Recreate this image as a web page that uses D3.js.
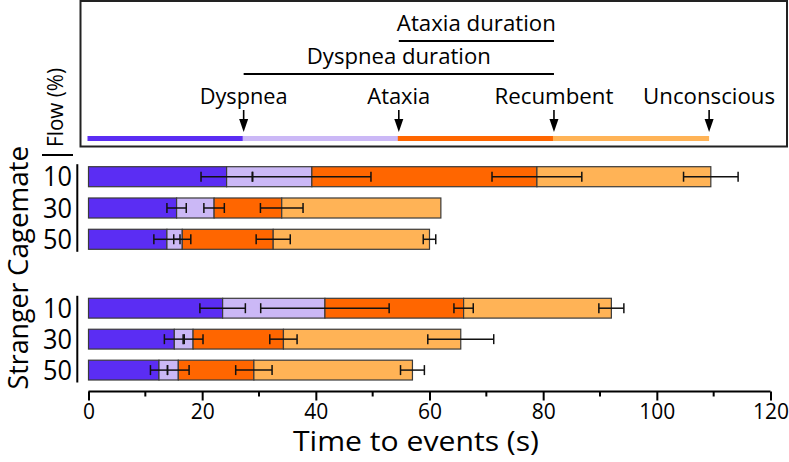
<!DOCTYPE html>
<html>
<head>
<meta charset="utf-8">
<script src="https://cdn.jsdelivr.net/npm/d3@7"></script>
<style>
  html, body { margin: 0; padding: 0; background: #fff; }
  svg { display: block; font-family: "Open Sans", sans-serif; }
</style>
</head>
<body>
<svg id="chart" width="789" height="462"></svg>
<script>
// ---------------- data ----------------
const groups = ["Cagemate", "Stranger"];
const flows = ["10", "30", "50"];
const events = ["Dyspnea", "Ataxia", "Recumbent", "Unconscious"];
const segmentColors = ["#5b2df3", "#cbb8f6", "#ff6600", "#ffb356"];

// cumulative time (s) at which each event occurs: [dyspnea, ataxia, recumbent, unconscious]
const cagemateTimes = [
  [24.3, 39.3, 78.9, 109.5],
  [15.5, 22.1, 34.0, 62.0],
  [13.8, 16.5, 32.5, 60.0]
];
const cagemateErrors = [
  [4.5, 10.4, 7.9, 4.8],
  [1.7, 1.8, 3.75, 0],
  [2.3, 1.5, 3.0, 1.1]
];
const strangerTimes = [
  [23.6, 41.6, 66.0, 92.0],
  [15.1, 18.4, 34.3, 65.5],
  [12.4, 15.8, 29.1, 57.0]
];
const strangerErrors = [
  [4.0, 11.3, 1.7, 2.2],
  [1.75, 1.75, 2.4, 5.8],
  [1.5, 1.9, 3.2, 2.1]
];

// schematic event times in the legend panel
const legendTimes = [0, 27.3, 54.6, 81.9, 109.2];
const xTicks = [0, 20, 40, 60, 80, 100, 120];
const xMinorTicks = [10, 30, 50, 70, 90, 110];
const xTitle = "Time to events (s)";
const flowLabel = "Flow (%)";

// ---------------- drawing ----------------
const svg = d3.select("#chart");
const x = d3.scaleLinear().domain([0, 120]).range([88.5, 770.5]);

// condense text to a target width (reference typeface is narrow)
function fit(sel, w) {
  sel.attr("textLength", w).attr("lengthAdjust", "spacingAndGlyphs");
  return sel;
}

const yGroup = {
  Cagemate: d3.scaleBand().domain(flows).range([166.7, 249.3]).paddingInner(0.36).paddingOuter(0),
  Stranger: d3.scaleBand().domain(flows).range([298.3, 380]).paddingInner(0.36).paddingOuter(0)
};
const groupData = {
  Cagemate: { times: cagemateTimes, errors: cagemateErrors },
  Stranger: { times: strangerTimes, errors: strangerErrors }
};

// legend box
svg.append("rect")
  .attr("x", 80.5).attr("y", 1).attr("width", 706.5).attr("height", 145.5)
  .attr("fill", "none").attr("stroke", "#222").attr("stroke-width", 2);

const legY = 138.5;
const legSegs = d3.range(4).map(i => ({ x0: legendTimes[i], x1: legendTimes[i + 1], c: segmentColors[i] }));
svg.append("g").selectAll("line").data(legSegs).join("line")
  .attr("x1", d => x(d.x0) - 1).attr("x2", d => x(d.x1))
  .attr("y1", legY).attr("y2", legY)
  .attr("stroke", d => d.c).attr("stroke-width", 5);

// arrows + labels
const eventWidths = [88, 63, 119, 132];
const arrowG = svg.append("g");
events.forEach((ev, i) => {
  const ax = x(legendTimes[i + 1]);
  arrowG.append("line").attr("x1", ax).attr("x2", ax).attr("y1", 110).attr("y2", 124)
    .attr("stroke", "#000").attr("stroke-width", 1.6);
  arrowG.append("path")
    .attr("d", `M${ax - 4.5},${119} L${ax + 4.5},${119} L${ax},${132} Z`)
    .attr("fill", "#000");
  fit(arrowG.append("text").attr("x", ax).attr("y", 104)
    .attr("text-anchor", "middle").attr("font-size", 21).text(ev), eventWidths[i]);
});

// duration lines
const durations = [
  { label: "Dyspnea duration", from: legendTimes[1], to: legendTimes[3], y: 74, ty: 64, w: 184 },
  { label: "Ataxia duration", from: legendTimes[2], to: legendTimes[3], y: 41, ty: 31, w: 159 }
];
durations.forEach(d => {
  svg.append("line").attr("x1", x(d.from)).attr("x2", x(d.to)).attr("y1", d.y).attr("y2", d.y)
    .attr("stroke", "#000").attr("stroke-width", 2);
  fit(svg.append("text").attr("x", (x(d.from) + x(d.to)) / 2).attr("y", d.ty)
    .attr("text-anchor", "middle").attr("font-size", 21).text(d.label), d.w);
});

// Flow (%) label
fit(svg.append("text").attr("transform", "translate(63,107.5) rotate(-90)")
  .attr("text-anchor", "middle").attr("font-size", 21).text(flowLabel), 79);
svg.append("line").attr("x1", 42).attr("x2", 73).attr("y1", 155).attr("y2", 155)
  .attr("stroke", "#000").attr("stroke-width", 2);

// bars
const barsG = svg.append("g");
const errG = svg.append("g");
groups.forEach(g => {
  const y = yGroup[g];
  const { times, errors } = groupData[g];
  flows.forEach((f, fi) => {
    const t = times[fi];
    const segs = t.map((v, i) => ({ x0: i === 0 ? 0 : t[i - 1], x1: v, c: segmentColors[i] }));
    barsG.selectAll(null).data(segs).join("rect")
      .attr("x", d => x(d.x0)).attr("width", d => x(d.x1) - x(d.x0))
      .attr("y", y(f)).attr("height", y.bandwidth())
      .attr("fill", d => d.c).attr("stroke", "#3a3a3a").attr("stroke-width", 1.2);
    const cy = y(f) + y.bandwidth() / 2;
    const eb = t.map((v, i) => ({ v, e: errors[fi][i] })).filter(d => d.e > 0);
    eb.forEach(d => {
      errG.append("line").attr("x1", x(d.v - d.e)).attr("x2", x(d.v + d.e)).attr("y1", cy).attr("y2", cy)
        .attr("stroke", "#111").attr("stroke-width", 1.5);
      [d.v - d.e, d.v + d.e].forEach(c => {
        errG.append("line").attr("x1", x(c)).attr("x2", x(c)).attr("y1", cy - 5).attr("y2", cy + 5)
          .attr("stroke", "#111").attr("stroke-width", 1.5);
      });
    });
    // flow labels
    fit(svg.append("text").attr("x", 72).attr("y", cy + 9.5)
      .attr("text-anchor", "end").attr("font-size", 27).text(f), 29);
  });
  // group bracket line
  const r = y.range();
  svg.append("line").attr("x1", 77.3).attr("x2", 77.3).attr("y1", r[0] - 2.5).attr("y2", r[1] + 2.5)
    .attr("stroke", "#000").attr("stroke-width", 2);
});
fit(svg.append("text").attr("transform", "translate(28,211) rotate(-90)")
  .attr("text-anchor", "middle").attr("font-size", 28).text(groups[0]), 130);
fit(svg.append("text").attr("transform", "translate(28,336) rotate(-90)")
  .attr("text-anchor", "middle").attr("font-size", 28).text(groups[1]), 107);

// x axis
const axisY = 391.5;
const axisG = svg.append("g").attr("transform", `translate(0,${axisY})`);
axisG.call(d3.axisBottom(x).tickValues(xTicks).tickSize(9).tickFormat(d3.format("d")));
axisG.select(".domain").attr("stroke-width", 2).attr("d", `M${x(0)},0H${x(120)}`);
axisG.selectAll(".tick line").attr("stroke-width", 2);
axisG.selectAll(".tick text").attr("font-size", 21).attr("font-family", "Open Sans, sans-serif")
  .attr("fill", "#000").attr("y", 27).attr("dy", null);
axisG.selectAll(".minor").data(xMinorTicks).join("line").attr("class", "minor")
  .attr("x1", d => x(d)).attr("x2", d => x(d)).attr("y1", 0).attr("y2", 5)
  .attr("stroke", "#000").attr("stroke-width", 2);

fit(svg.append("text").attr("x", 416).attr("y", 451).attr("text-anchor", "middle")
  .attr("font-size", 28).text(xTitle), 246);
</script>
</body>
</html>
